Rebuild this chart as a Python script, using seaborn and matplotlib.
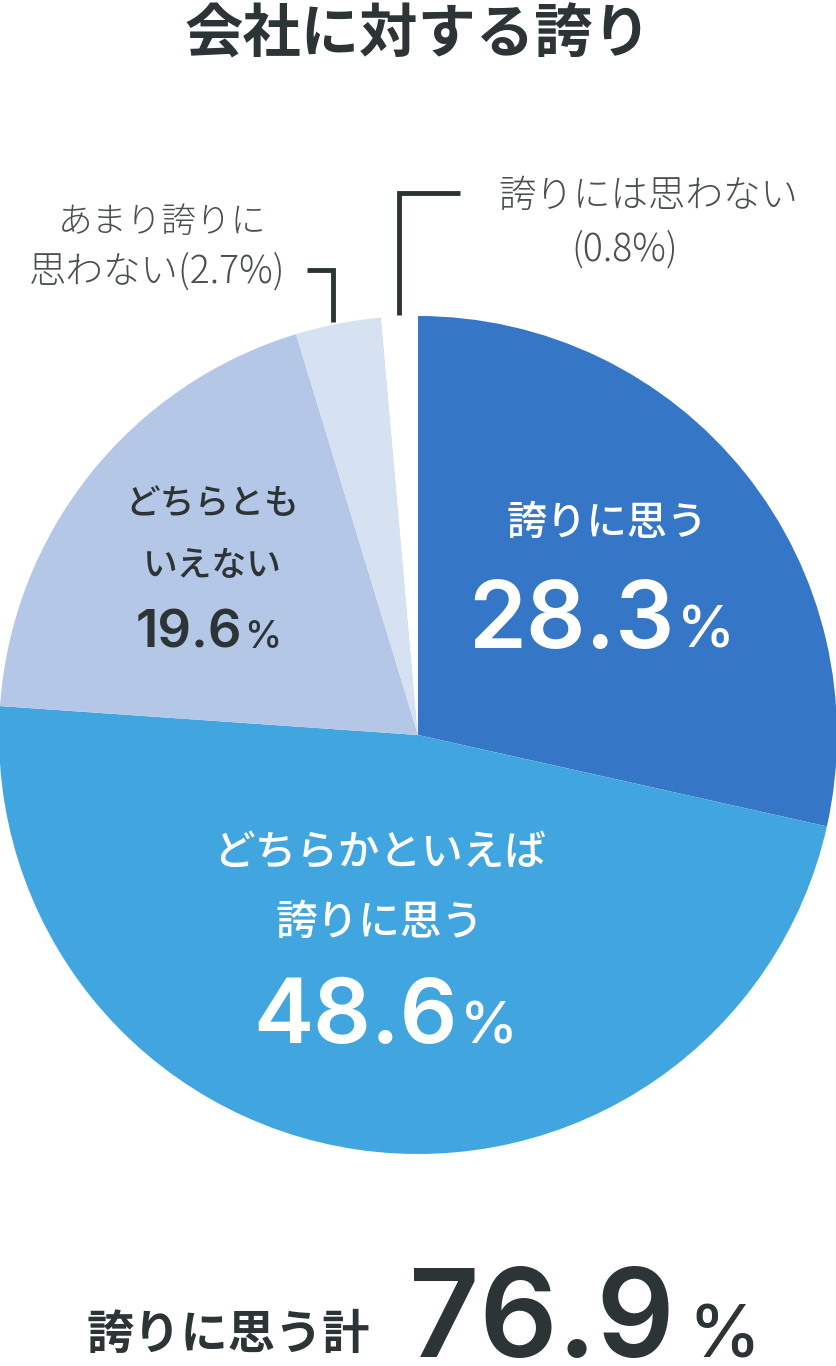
import seaborn as sns
import matplotlib.pyplot as plt

# slice data (clockwise from 12 o'clock)
labels = ['誇りに思う', 'どちらかといえば誇りに思う', 'どちらともいえない',
          'あまり誇りに思わない', '誇りには思わない']
values = [28.3, 48.6, 19.6, 2.7, 0.8]
shares = [28.5, 47.6, 19.2, 3.3, 1.4]
colors = ['#3577c6', '#41a5e0', '#b4c7e6', '#d6e1f2', '#ffffff']
total_label = '誇りに思う計'
total_value = 76.9

sns.set_theme(style='white')
plt.rcParams['font.family'] = ['Noto Sans CJK JP', 'DejaVu Sans']

DARK = '#2d3436'
GREY = '#4a4f52'
JP = ['Noto Sans CJK JP', 'DejaVu Sans']
NUM = ['Inter', 'DejaVu Sans']

W, H = 836, 1366
fig = plt.figure(figsize=(W / 100, H / 100), dpi=100)

# pie axes: centre (418, 735) px, radius 419 px
cx, cy, r = 418, 735, 419
ax = fig.add_axes([(cx - r) / W, (H - cy - r) / H, 2 * r / W, 2 * r / H])
ax.pie(shares, colors=colors, startangle=90, counterclock=False,
       wedgeprops=dict(linewidth=0))
ax.set_xlim(-1, 1)
ax.set_ylim(-1, 1)
ax.set_aspect('auto')
ax.axis('off')

# overlay axes in pixel coordinates for labels
ov = fig.add_axes([0, 0, 1, 1])
ov.set_xlim(0, W)
ov.set_ylim(H, 0)
ov.axis('off')
ov.patch.set_alpha(0)


def pct(xr, xp, y, val, size, color, psize):
    # number right-aligned at xr, small % left-aligned at xp, same baseline
    ov.text(xr, y, f'{val:.1f}', fontsize=size, color=color, family=NUM,
            fontweight='semibold', ha='right', va='baseline')
    ov.text(xp, y, '%', fontsize=psize, color=color, family=NUM,
            fontweight='medium', ha='left', va='baseline')


# title
ov.text(418, 35, '会社に対する誇り', fontsize=42, fontweight='bold', color=DARK,
        ha='center', va='center', family=JP)

# 誇りに思う
ov.text(607, 523, '誇りに思う', fontsize=29, fontweight='medium', color='white',
        ha='center', va='center', family=JP)
pct(674, 677, 648, values[0], 67, 'white', 42)

# どちらかといえば誇りに思う
ov.text(380, 852, 'どちらかといえば', fontsize=30, fontweight='medium', color='white',
        ha='center', va='center', family=JP)
ov.text(380, 922, '誇りに思う', fontsize=30, fontweight='medium', color='white',
        ha='center', va='center', family=JP)
pct(458, 460, 1043, values[1], 65, 'white', 42)

# どちらともいえない
ov.text(212, 505, 'どちらとも', fontsize=25, fontweight='medium', color=DARK,
        ha='center', va='center', family=JP)
ov.text(212, 566, 'いえない', fontsize=25, fontweight='medium', color=DARK,
        ha='center', va='center', family=JP)
pct(242, 244, 648, values[2], 38, DARK, 27)

# あまり誇りに思わない
ov.text(162, 222, 'あまり誇りに', fontsize=25, color=GREY,
        ha='center', va='center', family=JP, fontweight='light')
ov.text(157, 272, f'思わない({values[3]}%)', fontsize=27, color=GREY,
        ha='center', va='center', family=JP, fontweight='light')
ov.plot([307, 333, 333], [270, 270, 322], color=DARK, lw=3.5,
        solid_capstyle='butt', solid_joinstyle='miter')

# 誇りには思わない
ov.text(648, 196, '誇りには思わない', fontsize=27, color=GREY,
        ha='center', va='center', family=JP, fontweight='light')
ov.text(625, 250, f'({values[4]}%)', fontsize=27, color=GREY,
        ha='center', va='center', family=JP, fontweight='light')
ov.plot([399, 399, 460], [315, 193, 193], color=DARK, lw=3.5,
        solid_capstyle='butt', solid_joinstyle='miter')

# total
ov.text(228, 1335, total_label, fontsize=34, fontweight='bold', color=DARK,
        ha='center', va='center', family=JP)
pct(675, 688, 1357, total_value, 88, DARK, 52)

fig.savefig('out.png', dpi=100)
